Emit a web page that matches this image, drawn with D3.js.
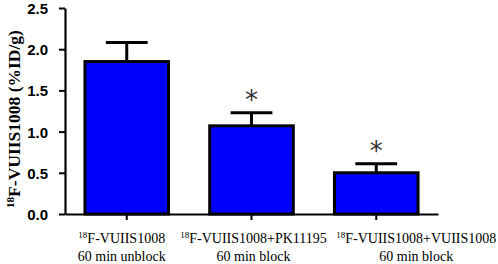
<!DOCTYPE html>
<html>
<head>
<meta charset="utf-8">
<script src="https://cdn.jsdelivr.net/npm/d3@7"></script>
<style>
  body { margin: 0; background: #fff; }
  svg { display: block; }
</style>
</head>
<body>
<svg id="chart"></svg>
<script>
// group names (two lines each), mean uptake and SD
const groups = ['unblock', 'pk', 'self'];
const labelLine1 = ['F-VUIIS1008', 'F-VUIIS1008+PK11195', 'F-VUIIS1008+VUIIS1008'];
const labelLine2 = ['60 min unblock', '60 min block', '60 min block'];
const means = [1.85, 1.07, 0.50];
const errors = [0.23, 0.16, 0.11];
const significant = [false, true, true];
const yTicks = [0.0, 0.5, 1.0, 1.5, 2.0, 2.5];

const width = 498, height = 264;
const margin = { top: 8, right: 60, bottom: 50, left: 65 };
const serif = '"Times New Roman", "Liberation Serif", serif';
const sans = 'Arial, "Liberation Sans", sans-serif';

const svg = d3.select('#chart')
  .attr('width', width)
  .attr('height', height);

const innerW = width - margin.left - margin.right;
const innerH = height - margin.top - margin.bottom;

const chart = svg.append('g')
  .attr('transform', `translate(${margin.left},${margin.top})`);

const data = groups.map((g, i) => ({
  key: g, mean: means[i], err: errors[i], sig: significant[i],
  l1: labelLine1[i], l2: labelLine2[i]
}));

const x = d3.scaleBand()
  .domain(groups)
  .range([0, 373])
  .paddingInner(0.33)
  .paddingOuter(0.16);

const y = d3.scaleLinear()
  .domain([0, 2.5])
  .range([innerH, 0]);

// y axis
const yAxis = d3.axisLeft(y)
  .tickValues(yTicks)
  .tickFormat(d3.format('.1f'))
  .tickSize(6)
  .tickPadding(10)
  .tickSizeOuter(0);

const yAxisG = chart.append('g').call(yAxis);
yAxisG.select('.domain').attr('stroke', '#000').attr('stroke-width', 2.2);
yAxisG.selectAll('.tick line').attr('stroke', '#000').attr('stroke-width', 2);
yAxisG.selectAll('.tick text')
  .style('font-family', sans)
  .style('font-weight', '900')
  .style('font-size', '15px')
  .attr('fill', '#000')
  .attr('x', -17)
  .attr('dy', '0.36em');

// x axis
const xAxis = d3.axisBottom(x).tickSize(6).tickSizeOuter(0).tickFormat('');
const xAxisG = chart.append('g')
  .attr('transform', `translate(0,${innerH})`)
  .call(xAxis);
xAxisG.select('.domain').attr('stroke', '#000').attr('stroke-width', 2);
xAxisG.selectAll('.tick line').attr('stroke', '#000').attr('stroke-width', 2)
  .attr('y1', 1);

// error bars (drawn first so the bar outline sits on top)
const errG = chart.selectAll('.err')
  .data(data)
  .join('g')
  .attr('class', 'err');

errG.append('line')
  .attr('x1', d => x(d.key) + x.bandwidth() / 2)
  .attr('x2', d => x(d.key) + x.bandwidth() / 2)
  .attr('y1', d => y(d.mean))
  .attr('y2', d => y(d.mean + d.err))
  .attr('stroke', '#000')
  .attr('stroke-width', 3);

errG.append('line')
  .attr('x1', d => x(d.key) + x.bandwidth() / 2 - x.bandwidth() / 4)
  .attr('x2', d => x(d.key) + x.bandwidth() / 2 + x.bandwidth() / 4)
  .attr('y1', d => y(d.mean + d.err))
  .attr('y2', d => y(d.mean + d.err))
  .attr('stroke', '#000')
  .attr('stroke-width', 3);

// bars
chart.selectAll('.bar')
  .data(data)
  .join('rect')
  .attr('class', 'bar')
  .attr('x', d => x(d.key))
  .attr('width', x.bandwidth())
  .attr('y', d => y(d.mean))
  .attr('height', d => innerH - y(d.mean))
  .attr('fill', '#0000ff')
  .attr('stroke', '#000')
  .attr('stroke-width', 3);

// significance stars
chart.selectAll('.star')
  .data(data.filter(d => d.sig))
  .join('text')
  .attr('class', 'star')
  .attr('x', d => x(d.key) + x.bandwidth() / 2)
  .attr('y', d => y(d.mean + d.err) - 4)
  .attr('text-anchor', 'middle')
  .style('font-family', '"DejaVu Sans", sans-serif')
  .style('font-size', '26px')
  .attr('fill', '#333')
  .text('*');

// category labels, two lines, with superscript 18
const shift = [-5, 2, 40];
const labels = chart.selectAll('.cat')
  .data(data)
  .join('g')
  .attr('class', 'cat')
  .attr('transform', (d, i) => `translate(${x(d.key) + x.bandwidth() / 2 + shift[i]},${innerH})`);

const l1 = labels.append('text')
  .style('font-family', serif)
  .style('font-size', '14px')
  .attr('y', 29)
  .attr('text-anchor', 'middle');
l1.append('tspan').style('font-size', '9px').attr('dy', -5).text('18');
l1.append('tspan').attr('dy', 5).text(d => d.l1);

labels.append('text')
  .style('font-family', serif)
  .style('font-size', '14px')
  .attr('y', 47)
  .attr('text-anchor', 'middle')
  .text(d => d.l2);

// y axis title
const yTitle = svg.append('text')
  .attr('transform', `translate(20,${margin.top + innerH / 2 + 8}) rotate(-90)`)
  .attr('text-anchor', 'middle')
  .style('font-family', serif)
  .style('font-weight', 'bold')
  .style('font-size', '17.5px');
yTitle.append('tspan').style('font-size', '11px').attr('dy', -6).text('18');
yTitle.append('tspan').attr('dy', 6).text('F-VUIIS1008 (%ID/g)');
</script>
</body>
</html>
